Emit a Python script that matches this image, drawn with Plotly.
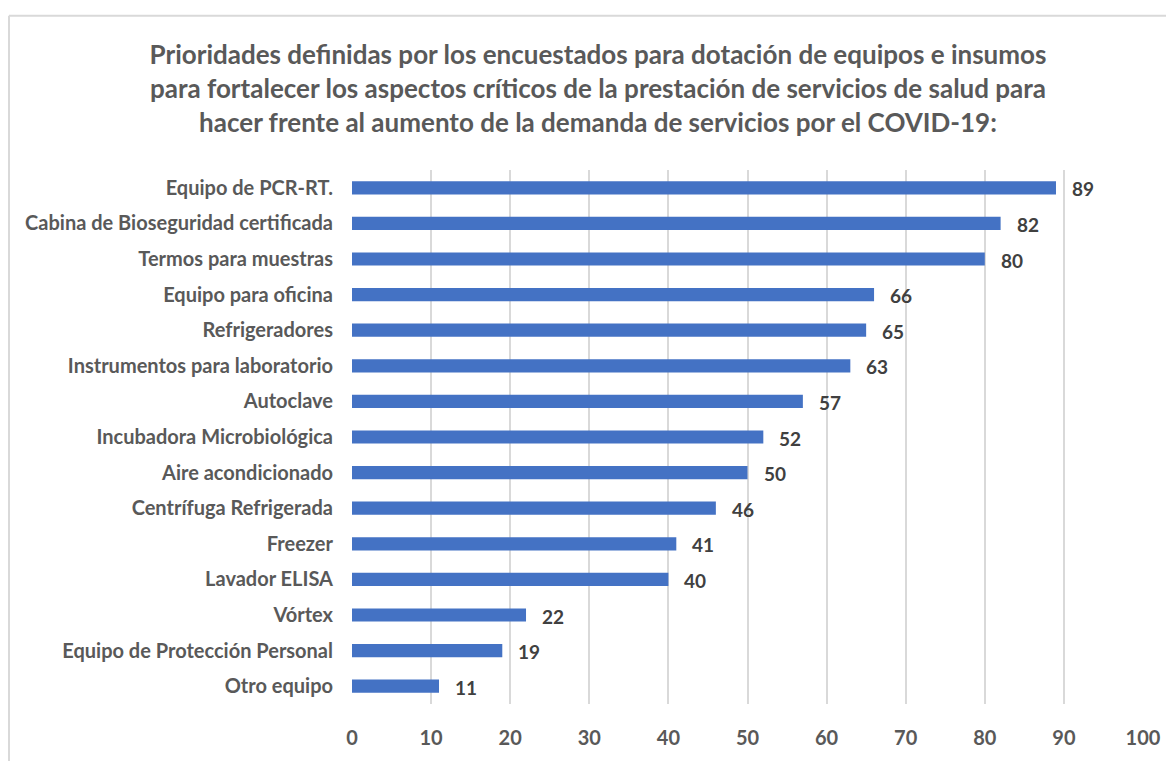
import plotly.graph_objects as go

categories = [
    "Equipo de PCR-RT.",
    "Cabina de Bioseguridad certificada",
    "Termos para muestras",
    "Equipo para oficina",
    "Refrigeradores",
    "Instrumentos para laboratorio",
    "Autoclave",
    "Incubadora Microbiológica",
    "Aire acondicionado",
    "Centrífuga Refrigerada",
    "Freezer",
    "Lavador ELISA",
    "Vórtex",
    "Equipo de Protección Personal",
    "Otro equipo",
]
values = [89, 82, 80, 66, 65, 63, 57, 52, 50, 46, 41, 40, 22, 19, 11]
x_ticks = [0, 10, 20, 30, 40, 50, 60, 70, 80, 90, 100]

title = ("Prioridades definidas por los encuestados para dotación de equipos e insumos<br>"
         "para fortalecer los aspectos críticos de la prestación de servicios de salud para<br>"
         "hacer frente al aumento de la demanda de servicios por el COVID-19:")

FONT = "Lato, 'Open Sans', sans-serif"
GRAY = "#595959"

W, H = 1166, 753
L, R, T, B = 344, 31, 162, 51
PW, PH = W - L - R, H - T - B

fig = go.Figure()
fig.add_trace(go.Bar(
    y=categories, x=values, orientation="h",
    marker=dict(color="#4472C4", line=dict(width=0)),
    hoverinfo="x+y",
))

for c, v in zip(categories, values):
    fig.add_annotation(x=v, y=c, text=str(v), showarrow=False,
                       xanchor="left", xshift=14, yshift=-1,
                       font=dict(family=FONT, size=19, color="#404040", weight="bold"))

fig.update_layout(
    width=W, height=H,
    paper_bgcolor="white", plot_bgcolor="white",
    margin=dict(l=L, r=R, t=T, b=B),
    bargap=0.63,
    showlegend=False,
    font=dict(family=FONT, color=GRAY),
    title=dict(text=title, x=(598 - 8) / W, xanchor="center", xref="container",
               y=1 - 56 / H, yanchor="top", yref="container",
               font=dict(family=FONT, size=26, color=GRAY, weight="bold")),
    xaxis=dict(range=[0, 100], tickvals=x_ticks, showgrid=True, gridcolor="#d9d9d9",
               gridwidth=2, zeroline=False, showline=False, ticks="",
               tickfont=dict(family=FONT, size=20, color=GRAY, weight="bold"),
               ticklabelstandoff=20),
    yaxis=dict(autorange="reversed", showgrid=False, zeroline=False, showline=False,
               ticks="", tickfont=dict(family=FONT, size=20, color=GRAY, weight="bold"),
               ticklabelstandoff=18),
)

# outer chart border (top and left edges visible)
top_y = (PH + T - 6) / PH
left_x = (1 - L) / PW
fig.add_shape(type="line", xref="paper", yref="paper",
              x0=left_x, x1=(W + 10 - L) / PW, y0=top_y, y1=top_y,
              line=dict(color="#d9d9d9", width=2))
fig.add_shape(type="line", xref="paper", yref="paper",
              x0=left_x, x1=left_x, y0=top_y, y1=-(B + 10) / PH,
              line=dict(color="#d9d9d9", width=2))

fig.write_html("out.html")
